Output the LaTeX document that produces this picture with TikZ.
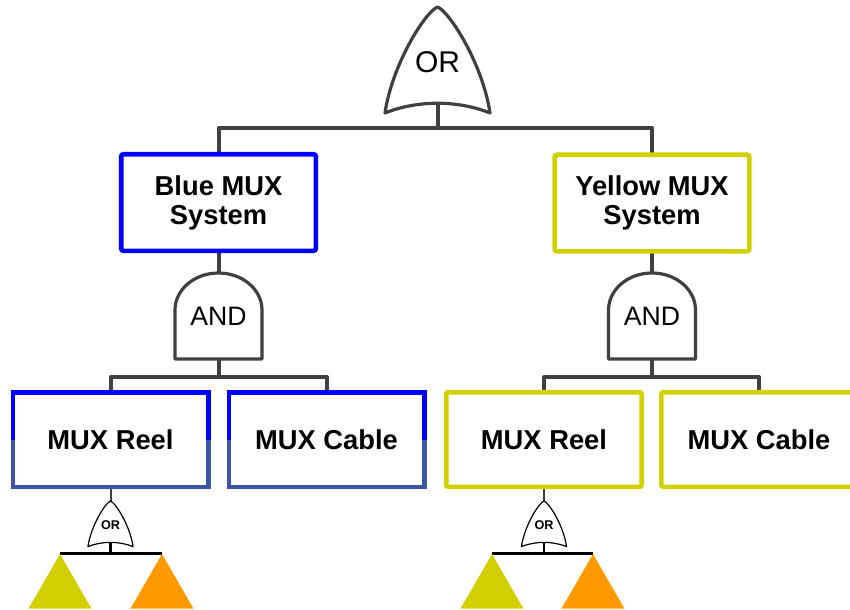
\documentclass[tikz,border=0pt]{standalone}
\usepackage{fontspec}
\setmainfont{Liberation Sans}
\usetikzlibrary{shapes.geometric,backgrounds}
\definecolor{conn}{RGB}{64,64,64}
\definecolor{bluetop}{RGB}{0,0,255}
\definecolor{bluebot}{RGB}{60,84,165}
\definecolor{ylw}{RGB}{210,208,0}
\definecolor{trigreen}{RGB}{210,206,0}
\definecolor{triorange}{RGB}{255,153,0}
\begin{document}
\begin{tikzpicture}[x=0.75pt,y=-0.75pt,
  connector/.style={draw=conn, line width=3pt, line join=round},
  stemline/.style={draw=conn, line width=1.5pt},
  thinbar/.style={draw=black, line width=1.7pt},
  gate/.style={draw=conn, line width=2.4pt, fill=white, line join=round},
  gatelabel/.style={font=\fontsize{22.5}{24}\selectfont, text=black, inner sep=0pt},
  boxbase/.style={rectangle, fill=white, inner sep=0pt, outer sep=0pt, align=center,
    font=\bfseries\fontsize{20.5}{21.75}\selectfont, rounded corners=1.5pt, line width=3.4pt},
  sysbox/.style={boxbase, minimum width=145.9pt, minimum height=72.4pt},
  compbox/.style={boxbase, minimum width=146.6pt, minimum height=70.9pt},
  tri/.style={regular polygon, regular polygon sides=3, minimum size=54.5pt, inner sep=0pt},
  pics/orgate/.style={code={
    \path[gate] (0,0) .. controls (-12.5,5) and (-45.5,58) .. (-52.5,106)
      .. controls (-20,93) and (20,93) .. (52.5,106)
      .. controls (45.5,58) and (12.5,5) .. (0,0) -- cycle;
    \node[gatelabel] (-label) at (0,55) {#1};
    \coordinate (-top) at (0,0);
    \coordinate (-out) at (0,96);
  }},
  pics/andgate/.style={code={
    \path[gate] (-43.5,86) -- (-43.5,37)
      .. controls (-43.5,16.56) and (-24.03,0) .. (0,0)
      .. controls (24.03,0) and (43.5,16.56) .. (43.5,37)
      -- (43.5,86) -- cycle;
    \node[gatelabel, font=\fontsize{20}{22}\selectfont] (-label) at (0,43) {#1};
    \coordinate (-top) at (0,0);
    \coordinate (-out) at (0,86);
  }},
  smallgate/.style={scale=0.43,
    gate/.style={draw=black, line width=0.9pt, fill=white, line join=round},
    gatelabel/.style={font=\bfseries\fontsize{9.5}{10}\selectfont, text=black, inner sep=0pt}}
]
\path[use as bounding box] (0,0) rectangle (850,610);
\clip (0,0) rectangle (850,610);

% top OR gate
\pic (g0) at (437.5,7) {orgate=OR};

% system boxes
\node[sysbox, draw=bluetop] (bms) at (218.5,202.5) {Blue MUX\\System};
\node[sysbox, draw=ylw] (yms) at (652,203) {Yellow MUX\\System};

% AND gates
\pic (a1) at (218.5,273) {andgate=AND};
\pic (a2) at (652,273) {andgate=AND};

% component boxes (blue, two-tone border)
\node[compbox] (r1) at (110.5,439.5) {MUX Reel};
\node[compbox] (c1) at (326.5,439.5) {MUX Cable};
\foreach \b in {r1,c1}{
  \draw[draw=bluetop, line width=3.4pt] (\b.west) |- (\b.north) -| (\b.east);
  \draw[draw=bluebot, line width=3.4pt] (\b.west) |- (\b.south) -| (\b.east);
}
% component boxes (yellow)
\node[compbox, draw=ylw] (r2) at (544,439.5) {MUX Reel};
\node[compbox, draw=ylw] (c2) at (759,439.5) {MUX Cable};

% small OR gates
\pic[smallgate] (s1) at (110.5,501) {orgate=OR};
\pic[smallgate] (s2) at (544,501) {orgate=OR};

% basic events (triangles)
\node[tri, fill=trigreen] (t1) at (60,590.4) {};
\node[tri, fill=triorange] (t2) at (162,590.4) {};
\node[tri, fill=trigreen] (t3) at (492,590.4) {};
\node[tri, fill=triorange] (t4) at (593,590.4) {};

% junction points
\coordinate (j0) at (437.5,128);
\coordinate (j1) at (218.5,377);
\coordinate (j2) at (652,377);
\coordinate (j3) at (110.5,554);
\coordinate (j4) at (544,554);

\begin{pgfonlayer}{background}
  \draw[connector] (g0-out) -- (j0);
  \draw[connector] (bms.north) |- (j0) -| (yms.north);
  \draw[connector] (bms.south) -- (a1-top);
  \draw[connector] (yms.south) -- (a2-top);
  \draw[connector] (a1-out) -- (j1);
  \draw[connector] (r1.north) |- (j1) -| (c1.north);
  \draw[connector] (a2-out) -- (j2);
  \draw[connector] (r2.north) |- (j2) -| (c2.north);
  \draw[stemline] (r1.south) -- (s1-top);
  \draw[stemline] (r2.south) -- (s2-top);
  \draw[thinbar] (s1-out) -- (j3);
  \draw[thinbar] (s2-out) -- (j4);
  \draw[thinbar] (t1.north) -- (t2.north);
  \draw[thinbar] (t3.north) -- (t4.north);
\end{pgfonlayer}
\end{tikzpicture}
\end{document}
